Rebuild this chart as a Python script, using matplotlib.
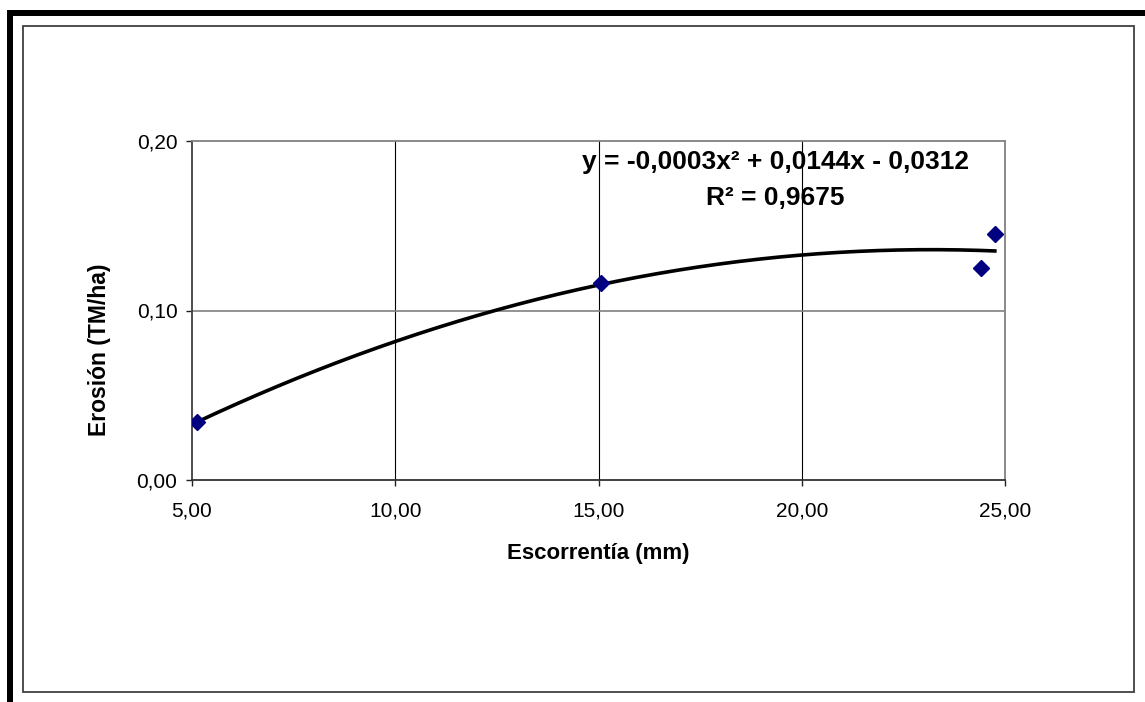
import numpy as np
import matplotlib.pyplot as plt
from matplotlib.patches import Rectangle

# Escorrentía (mm) vs erosión (TM/ha)
escorrentia = [5.12, 15.05, 24.40, 24.75]
erosion = [0.034, 0.116, 0.125, 0.145]

x_ticks = [5, 10, 15, 20, 25]
y_ticks = [0.0, 0.1, 0.2]
ecuacion = 'y = -0,0003x² + 0,0144x - 0,0312'
r2_texto = 'R² = 0,9675'

plt.rcParams['font.family'] = ['Liberation Sans', 'DejaVu Sans']

W, H = 1145, 702
fig = plt.figure(figsize=(W / 100, H / 100), dpi=100)
fig.patch.set_facecolor('white')


def px_rect(x0, y0, x1, y1, **kw):
    # rectangle given in pixel coords (origin top-left)
    return Rectangle((x0 / W, 1 - y1 / H), (x1 - x0) / W, (y1 - y0) / H,
                     transform=fig.transFigure, **kw)


# outer frame: thick black bars on top and left, thin inner border
fig.add_artist(px_rect(7, 10, W, 16, facecolor='black', edgecolor='none'))
fig.add_artist(px_rect(7, 10, 13, H, facecolor='black', edgecolor='none'))
fig.add_artist(px_rect(22.5, 25.5, 1134, 692, facecolor='none',
                       edgecolor='#404040', linewidth=1.3))

ax = fig.add_axes([192 / W, 1 - 480 / H, (1005 - 192) / W, (480 - 141) / H])

ax.set_xlim(5, 25)
ax.set_ylim(0, 0.2)
ax.set_xticks(x_ticks)
ax.set_yticks(y_ticks)
ax.set_xticklabels([f'{v:.2f}'.replace('.', ',') for v in x_ticks])
ax.set_yticklabels([f'{v:.2f}'.replace('.', ',') for v in y_ticks])
ax.tick_params(direction='out', length=4.5, width=1, colors='#202020',
               labelsize=15, labelcolor='black')
ax.tick_params(axis='x', pad=11)
ax.tick_params(axis='y', pad=6)

# grid: vertical black, horizontal gray
for xv in x_ticks[1:-1]:
    ax.axvline(xv, color='black', linewidth=0.8, zorder=1)
for yv in y_ticks[1:-1]:
    ax.axhline(yv, color='#808080', linewidth=1.2, zorder=1)

ax.spines['left'].set_color('#404040')
ax.spines['bottom'].set_color('#303030')
ax.spines['top'].set_color('#808080')
ax.spines['right'].set_color('#808080')
for s in ax.spines.values():
    s.set_linewidth(1.3)

# polynomial trend line (degree 2) fitted on the points
coef = np.polyfit(escorrentia, erosion, 2)
xs = np.linspace(min(escorrentia), max(escorrentia), 200)
ax.plot(xs, np.polyval(coef, xs), color='black', linewidth=2.6, zorder=3)

ax.plot(escorrentia, erosion, linestyle='none', marker='D', markersize=8,
        color='#000080', zorder=4)

ax.text(19.36, 0.1876, ecuacion, ha='center', va='center', fontsize=19,
        fontweight='bold', zorder=5)
ax.text(19.36, 0.1664, r2_texto, ha='center', va='center', fontsize=19,
        fontweight='bold', zorder=5)

ax.set_xlabel('Escorrentía (mm)', fontsize=16, fontweight='bold', labelpad=16)
ax.set_ylabel('Erosión (TM/ha)', fontsize=16.5, fontweight='bold')
ax.yaxis.set_label_coords(-0.0996, 0.383)

fig.savefig('out.png', dpi=100, facecolor='white')
